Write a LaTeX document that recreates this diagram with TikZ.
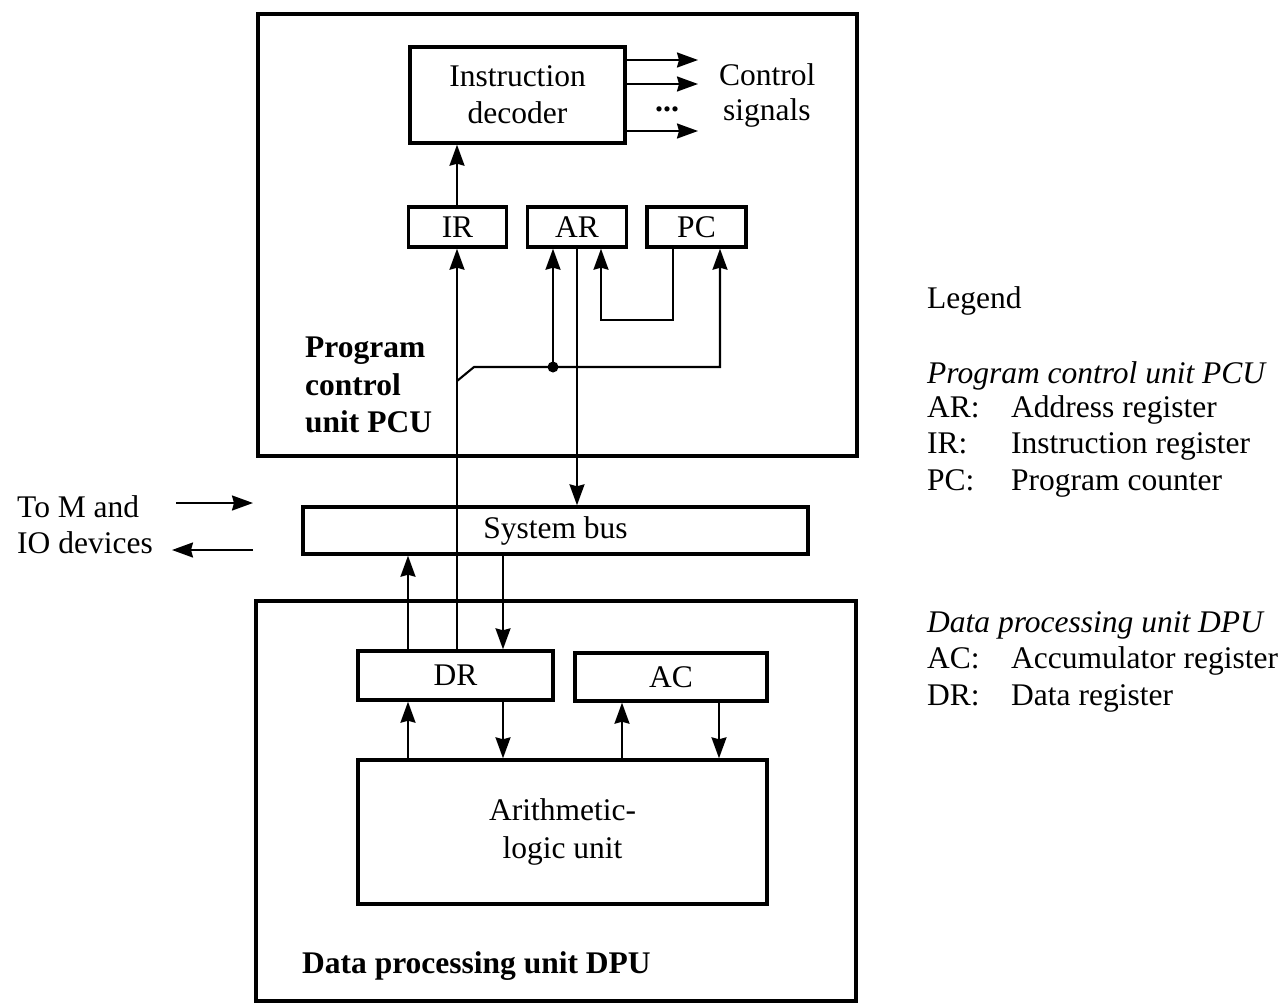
\documentclass[tikz,border=0pt]{standalone}
\usepackage{fontspec}
\setmainfont{Liberation Serif}
\usetikzlibrary{arrows.meta}
\newcommand\mydiafont{\fontsize{31.5}{37}\selectfont}
\begin{document}
\begin{tikzpicture}[x=1pt,y=-1pt,
  every node/.style={font=\mydiafont, text=black},
  box/.style={draw=black, line width=3.4pt, inner sep=0pt, align=center},
  lbl/.style={inner sep=0pt, anchor=base west},
  conn/.style={draw=black, line width=2.1pt},
  arr/.style={conn, -{Stealth[length=21pt,width=15pt,inset=2pt]}},
]
\useasboundingbox[fill=white] (0,0) rectangle (1285,1004);

% main boxes
\node[box, minimum width=599pt, minimum height=442pt] (pcu) at (557.5,235) {};
\node[box, minimum width=600pt, minimum height=400pt] (dpu) at (556,801) {};
\node[box, minimum width=215pt, minimum height=96pt] (dec) at (517.5,95) {Instruction\\decoder};
\node[box, minimum width=98pt, minimum height=40pt] (ir) at (457.5,227) {IR};
\node[box, minimum width=99pt, minimum height=40pt] (ar) at (577,227) {AR};
\node[box, minimum width=99pt, minimum height=40pt] (pc) at (696.5,227) {PC};
\node[box, minimum width=505pt, minimum height=47pt] (bus) at (555.5,530.5) {System bus};
\node[box, minimum width=195pt, minimum height=49pt] (dr) at (455.5,675.5) {DR};
\node[box, minimum width=192pt, minimum height=48pt] (ac) at (671,677) {AC};
\node[box, minimum width=409pt, minimum height=144pt, font=\fontsize{31.5}{38}\selectfont] (alu) at (562.5,832) {Arithmetic-\\logic unit};

% labels inside units
\node[lbl, font=\mydiafont\bfseries] (pcul1) at (305,357) {Program};
\node[lbl, font=\mydiafont\bfseries] (pcul2) at (305,395) {control};
\node[lbl, font=\mydiafont\bfseries] (pcul3) at (305,432) {unit PCU};
\node[lbl, font=\mydiafont\bfseries] (dpul) at (302,973) {Data processing unit DPU};

% control signals
\coordinate (s1) at (698,60);
\coordinate (s2) at (698,84);
\coordinate (s3) at (698,131);
\draw[arr] (dec.east |- s1) -- (s1);
\draw[arr] (dec.east |- s2) -- (s2);
\draw[arr] (dec.east |- s3) -- (s3);
\node[lbl, font=\fontsize{32}{32}\selectfont\bfseries] (dots) at (655,111) {...};
\node[lbl] (cs1) at (719,85) {Control};
\node[lbl] (cs2) at (723,120) {signals};

% column helpers
\coordinate (c408) at (408,0);
\coordinate (c457) at (457,0);
\coordinate (c503) at (503,0);
\coordinate (c622) at (622,0);
\coordinate (c719) at (719,0);
\coordinate (c720) at (720,0);

% IR -> decoder
\draw[arr] (c457 |- ir.north) -- (c457 |- dec.south);
% DR -> IR
\draw[arr] (c457 |- dr.north) -- (c457 |- ir.south);
% branch to AR and PC
\coordinate (br) at (457,381);
\coordinate (bk) at (474,367);
\coordinate (dot) at (553,367);
\draw[arr] (br) -- (bk) -- (c720 |- bk) -- (c720 |- pc.south);
\draw[arr] (dot) -- (dot |- ar.south);
\fill[black] (dot) circle (5.5pt);
% PC -> AR
\coordinate (pcout) at (673,0);
\coordinate (loop) at (601,320);
\draw[arr] (pcout |- pc.south) |- (loop) -- (loop |- ar.south);
% AR -> bus
\draw[arr] (ar.south) -- (ar.south |- bus.north);
% bus <-> DR
\draw[arr] (c503 |- bus.south) -- (c503 |- dr.north);
\draw[arr] (c408 |- dr.north) -- (c408 |- bus.south);
% DR <-> ALU
\draw[arr] (c408 |- alu.north) -- (c408 |- dr.south);
\draw[arr] (c503 |- dr.south) -- (c503 |- alu.north);
% AC <-> ALU
\draw[arr] (c622 |- alu.north) -- (c622 |- ac.south);
\draw[arr] (c719 |- ac.south) -- (c719 |- alu.north);

% external
\node[lbl] (ext1) at (17,517) {To M and};
\node[lbl] (ext2) at (17,553) {IO devices};
\coordinate (in1) at (176,503);
\coordinate (in2) at (253,503);
\coordinate (out1) at (253,550);
\coordinate (out2) at (172,550);
\draw[arr] (in1) -- (in2);
\draw[arr] (out1) -- (out2);

% legend
\node[lbl] (leg) at (927,308) {Legend};
\node[lbl, font=\mydiafont\itshape] (legp) at (927,383) {Program control unit PCU};
\node[lbl] (lar) at (927,417) {AR:};
\node[lbl] (lard) at (1011,417) {Address register};
\node[lbl] (lir) at (927,453) {IR:};
\node[lbl] (lird) at (1011,453) {Instruction register};
\node[lbl] (lpc) at (927,490) {PC:};
\node[lbl] (lpcd) at (1011,490) {Program counter};
\node[lbl, font=\mydiafont\itshape] (legd) at (927,632) {Data processing unit DPU};
\node[lbl] (lac) at (927,668) {AC:};
\node[lbl] (lacd) at (1011,668) {Accumulator register};
\node[lbl] (ldr) at (927,705) {DR:};
\node[lbl] (ldrd) at (1011,705) {Data register};
\end{tikzpicture}
\end{document}
